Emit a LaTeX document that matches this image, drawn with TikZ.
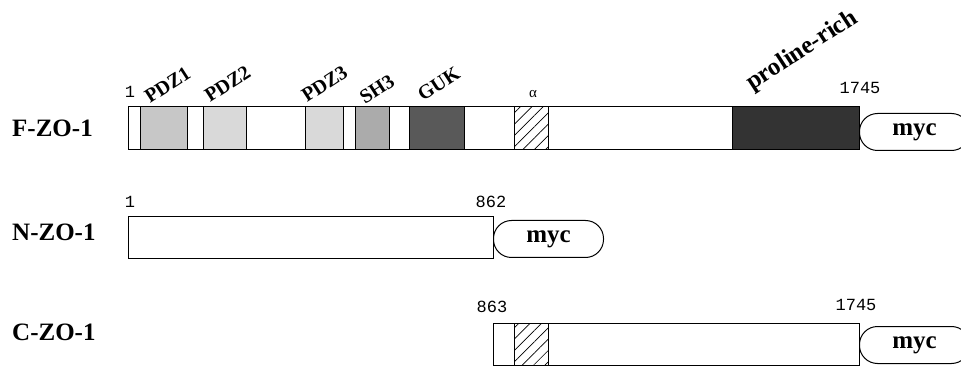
\documentclass[tikz,border=0pt]{standalone}
\usepackage{fontspec}
\setmainfont{Liberation Serif}
\setmonofont{Liberation Mono}
\usetikzlibrary{patterns.meta}

\begin{document}
\begin{tikzpicture}[x=1pt,y=1pt,
        segment/.style={draw, line width=1pt},
        hatchbox/.style={draw, line width=1pt, pattern={Lines[angle=45,distance=8pt,line width=0.7pt]}},
        mycbox/.style={draw, line width=1pt, rounded corners=18pt, minimum width=110pt, minimum height=37pt, inner sep=0pt, anchor=south west, font=\fontsize{25}{25}\selectfont\bfseries},
        rowlabel/.style={anchor=west, inner sep=0pt, font=\fontsize{25}{25}\selectfont\bfseries},
        domlabel/.style={anchor=base west, rotate=33, inner sep=0pt, font=\fontsize{20}{20}\selectfont\bfseries},
        num/.style={inner sep=0pt, font=\fontsize{17}{17}\selectfont\ttfamily}]
    \useasboundingbox (0,0) rectangle (961,367);

    % F-ZO-1
    \node[rowlabel] (F) at (12,239) {F-ZO-1};
    \draw[segment] (128,217) rectangle (859,260);
    \filldraw[segment, fill=black!22] (140,217) rectangle (187,260);
    \filldraw[segment, fill=black!15] (203,217) rectangle (246,260);
    \filldraw[segment, fill=black!15] (305,217) rectangle (343,260);
    \filldraw[segment, fill=black!33] (355,217) rectangle (389,260);
    \filldraw[segment, fill=black!65] (409,217) rectangle (464,260);
    \path[hatchbox] (514,217) rectangle (548,260);
    \filldraw[segment, fill=black!80] (732,217) rectangle (859,260);
    \node[mycbox] (Fmyc) at (859,216) {myc};
    \node[num] (Fstart) at (130,275) {1};
    \node[num] (Fend) at (860,279) {1745};
    \node[domlabel] (pdz1) at (150,263) {PDZ1};
    \node[domlabel] (pdz2) at (210,264) {PDZ2};
    \node[domlabel] (pdz3) at (307,264) {PDZ3};
    \node[domlabel] (sh3) at (365,262) {SH3};
    \node[domlabel] (guk) at (423,265) {GUK};
    \node[domlabel, font=\fontsize{25}{25}\selectfont\bfseries] (pro) at (752,276) {proline-rich};
    \node[inner sep=0pt, font=\fontsize{15}{15}\selectfont] (alpha) at (533,273) {α};

    % N-ZO-1
    \node[rowlabel] (N) at (12,135) {N-ZO-1};
    \draw[segment] (128,108) rectangle (493,150);
    \node[mycbox] (Nmyc) at (493,109) {myc};
    \node[num] (Nstart) at (130,165) {1};
    \node[num] (Nend) at (491,165) {862};

    % C-ZO-1
    \node[rowlabel] (C) at (12,35) {C-ZO-1};
    \draw[segment] (493,2) rectangle (859,44);
    \path[hatchbox] (514,2) rectangle (548,44);
    \node[mycbox] (Cmyc) at (859,3) {myc};
    \node[num] (Cstart) at (492,60) {863};
    \node[num] (Cend) at (856,62) {1745};
\end{tikzpicture}
\end{document}
